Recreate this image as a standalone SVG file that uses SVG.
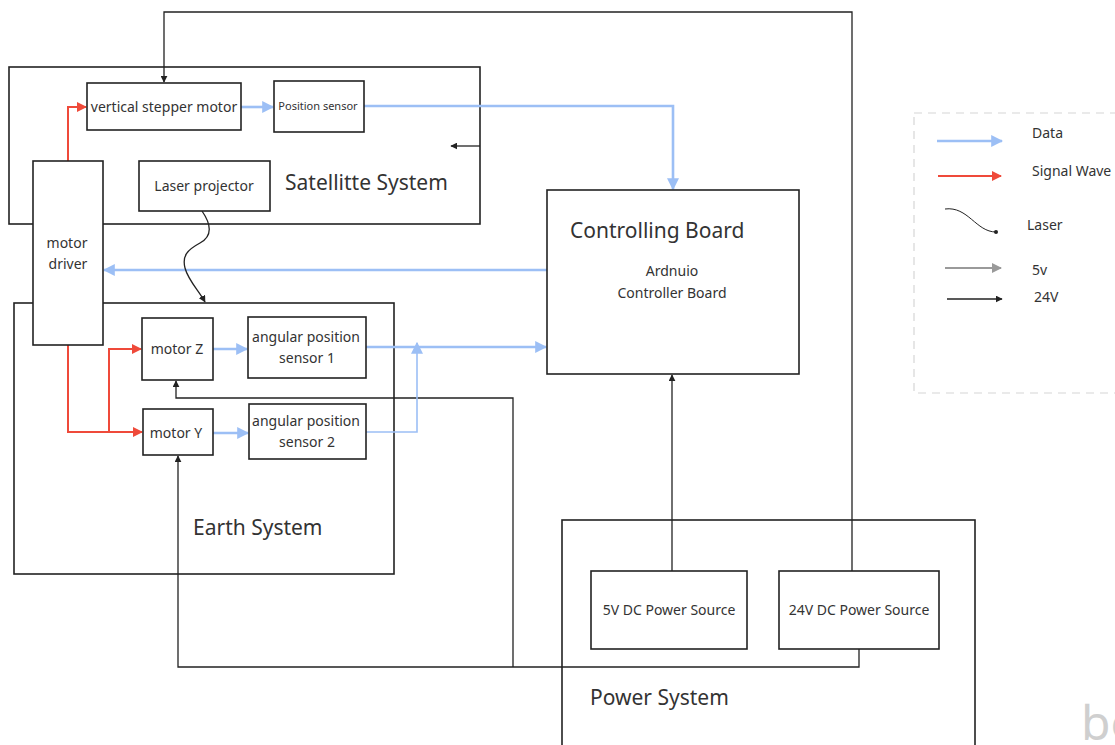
<svg xmlns="http://www.w3.org/2000/svg" width="1115" height="745" viewBox="0 0 1115 745">
  <style>
    text { font-family: "Noto Sans", "Open Sans", sans-serif; fill: #333; }
    .box { fill: #fff; stroke: #222; stroke-width: 1.6; }
    .frame { fill: none; stroke: #222; stroke-width: 1.6; }
    .data { fill: none; stroke: #9cbff5; stroke-width: 2.6; }
    .data-thin { fill: none; stroke: #9cbff5; stroke-width: 1.6; }
    .sig { fill: none; stroke: #ef4a3a; stroke-width: 2; }
    .pwr { fill: none; stroke: #222; stroke-width: 1.3; }
    .v5 { fill: none; stroke: #9a9a9a; stroke-width: 2; }
    .title { font-size: 21px; }
    .lbl { font-size: 14px; }
    .leg { font-size: 14px; }
  </style>
  <defs>
    <marker id="mData" viewBox="0 0 10 10" refX="9" refY="5" markerUnits="userSpaceOnUse" markerWidth="12" markerHeight="12" orient="auto">
      <path d="M0,0 L10,5 L0,10 z" fill="#9cbff5"/>
    </marker>
    <marker id="mSig" viewBox="0 0 10 10" refX="9" refY="5" markerUnits="userSpaceOnUse" markerWidth="10" markerHeight="10" orient="auto">
      <path d="M0,0 L10,5 L0,10 z" fill="#ef4a3a"/>
    </marker>
    <marker id="mPwr" viewBox="0 0 10 10" refX="9" refY="5" markerUnits="userSpaceOnUse" markerWidth="7" markerHeight="7" orient="auto">
      <path d="M0,0 L10,5 L0,10 z" fill="#222"/>
    </marker>
    <marker id="m5v" viewBox="0 0 10 10" refX="9" refY="5" markerUnits="userSpaceOnUse" markerWidth="10" markerHeight="10" orient="auto">
      <path d="M0,0 L10,5 L0,10 z" fill="#9a9a9a"/>
    </marker>
    <marker id="mDot" viewBox="0 0 10 10" refX="5" refY="5" markerUnits="userSpaceOnUse" markerWidth="4" markerHeight="4" orient="auto">
      <circle cx="5" cy="5" r="5" fill="#222"/>
    </marker>
  </defs>

  <rect width="1115" height="745" fill="#fff"/>

  <!-- subsystem frames -->
  <g id="satellite-system">
    <rect class="frame" x="9" y="67" width="471" height="157"/>
    <text class="title" x="285" y="190">Satellitte System</text>
  </g>
  <g id="earth-system">
    <rect class="frame" x="14" y="303" width="380" height="271"/>
    <text class="title" x="193" y="535">Earth System</text>
  </g>
  <g id="power-system">
    <rect class="frame" x="562" y="520" width="413" height="240"/>
    <text class="title" x="590" y="705">Power System</text>
  </g>

  <!-- connectors -->
  <g id="connectors">
    <!-- 24V supply to vertical stepper motor -->
    <path class="pwr" d="M852,571 V12 H164 V82" marker-end="url(#mPwr)"/>
    <path class="pwr" d="M480,146 H451" marker-end="url(#mPwr)"/>
    <!-- 24V supply to motors Y and Z -->
    <path class="pwr" d="M859,649 V667 H178 V456" marker-end="url(#mPwr)"/>
    <path class="pwr" d="M513,667 V398 H176 V381" marker-end="url(#mPwr)"/>
    <!-- 5V supply to controller -->
    <path class="pwr" d="M672,571 V375" marker-end="url(#mPwr)"/>

    <!-- data lines -->
    <path class="data" d="M241,107 H273" marker-end="url(#mData)"/>
    <path class="data" d="M364,106 H673 V189" marker-end="url(#mData)"/>
    <path class="data" d="M547,270 H104" marker-end="url(#mData)"/>
    <path class="data" d="M213,349 H247" marker-end="url(#mData)"/>
    <path class="data" d="M213,433 H248" marker-end="url(#mData)"/>
    <path class="data" d="M366,347 H546" marker-end="url(#mData)"/>
    <path class="data-thin" d="M366,432 H417 V343" marker-end="url(#mData)"/>

    <!-- signal lines from motor driver -->
    <path class="sig" d="M68,161 V107 H86" marker-end="url(#mSig)"/>
    <path class="sig" d="M68,345 V432 H142" marker-end="url(#mSig)"/>
    <path class="sig" d="M109,432 V349 H141" marker-end="url(#mSig)"/>

    <!-- laser beam -->
    <path class="pwr" d="M202,211 C211,224 213,236 200,243 C187,250 182,256 185,268 C188,280 199,291 205,302" marker-end="url(#mPwr)"/>
  </g>

  <!-- nodes -->
  <g id="vertical-stepper-motor">
    <rect class="box" x="87" y="83" width="154" height="47"/>
    <text x="164" y="112" font-size="14" text-anchor="middle">vertical stepper motor</text>
  </g>
  <g id="position-sensor">
    <rect class="box" x="274" y="81" width="90" height="51"/>
    <text x="318" y="110" font-size="11" text-anchor="middle">Position sensor</text>
  </g>
  <g id="laser-projector">
    <rect class="box" x="139" y="161" width="131" height="50"/>
    <text class="lbl" x="204" y="191" text-anchor="middle">Laser projector</text>
  </g>
  <g id="motor-driver">
    <rect class="box" x="33" y="161" width="70" height="184"/>
    <text class="lbl" x="67" y="248" text-anchor="middle">motor</text>
    <text class="lbl" x="68" y="269" text-anchor="middle">driver</text>
  </g>
  <g id="motor-z">
    <rect class="box" x="142" y="318" width="71" height="62"/>
    <text class="lbl" x="177" y="354" text-anchor="middle">motor Z</text>
  </g>
  <g id="angular-sensor-1">
    <rect class="box" x="248" y="317" width="118" height="61"/>
    <text class="lbl" x="306" y="342" text-anchor="middle">angular position</text>
    <text class="lbl" x="307" y="363" text-anchor="middle">sensor 1</text>
  </g>
  <g id="motor-y">
    <rect class="box" x="143" y="409" width="70" height="46"/>
    <text class="lbl" x="176" y="438" text-anchor="middle">motor Y</text>
  </g>
  <g id="angular-sensor-2">
    <rect class="box" x="249" y="404" width="117" height="55"/>
    <text class="lbl" x="306" y="426" text-anchor="middle">angular position</text>
    <text class="lbl" x="307" y="447" text-anchor="middle">sensor 2</text>
  </g>
  <g id="controlling-board">
    <rect class="box" x="547" y="190" width="252" height="184"/>
    <text class="title" x="570" y="238">Controlling Board</text>
    <text class="lbl" x="672" y="276" text-anchor="middle">Ardnuio</text>
    <text class="lbl" x="672" y="298" text-anchor="middle">Controller Board</text>
  </g>
  <g id="power-5v">
    <rect class="box" x="591" y="571" width="156" height="78"/>
    <text class="lbl" x="669" y="615" text-anchor="middle">5V DC Power Source</text>
  </g>
  <g id="power-24v">
    <rect class="box" x="779" y="571" width="160" height="78"/>
    <text class="lbl" x="859" y="615" text-anchor="middle">24V DC Power Source</text>
  </g>

  <!-- legend -->
  <g id="legend">
    <rect x="914" y="113" width="230" height="280" fill="none" stroke="#d6d6d6" stroke-width="1.2" stroke-dasharray="8 6"/>
    <path class="data" d="M937,141 H1002" marker-end="url(#mData)"/>
    <text class="leg" x="1032" y="138">Data</text>
    <path class="sig" d="M938,176 H1001" marker-end="url(#mSig)"/>
    <text class="leg" x="1032" y="176">Signal Wave</text>
    <path fill="none" stroke="#222" stroke-width="1" d="M945,209 C968,206 976,232 996,232" marker-end="url(#mDot)"/>
    <text class="leg" x="1027" y="230">Laser</text>
    <path class="v5" d="M945,268 H1001" marker-end="url(#m5v)"/>
    <text class="leg" x="1032" y="275">5v</text>
    <path class="pwr" d="M947,299 H1002" marker-end="url(#mPwr)"/>
    <text class="leg" x="1034" y="302">24V</text>
  </g>

  <!-- partial watermark at the lower right edge -->
  <text x="1081" y="740" font-size="48" style="fill:#cfcfcf">bo</text>
</svg>
